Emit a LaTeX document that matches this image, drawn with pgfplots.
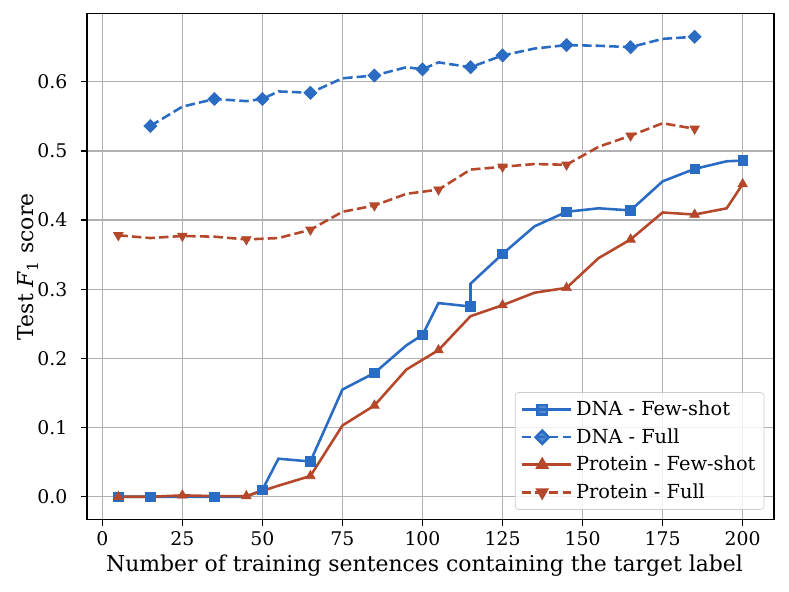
\documentclass[border=0pt]{standalone}
\usepackage{fontspec}
\setmainfont{DejaVu Serif}
\usepackage{pgfplots}
\pgfplotsset{compat=1.18}
\definecolor{cblue}{RGB}{42,108,196}
\definecolor{cred}{RGB}{181,72,42}
\begin{document}
\begin{tikzpicture}
\useasboundingbox (0,0) rectangle (460.8pt,345.6pt);
\begin{axis}[
  at={(50.87pt,42.05pt)}, anchor=south west,
  scale only axis, width=401.1pt, height=295.5pt,
  xmin=-4.75, xmax=209.75, ymin=-0.03325, ymax=0.69825,
  xtick={0,25,50,75,100,125,150,175,200},
  ytick={0,0.1,0.2,0.3,0.4,0.5,0.6},
  yticklabel style={xshift=-4.5pt, /pgf/number format/fixed, /pgf/number format/fixed zerofill, /pgf/number format/precision=1},
  /pgf/number format/assume math mode=true,
  tick label style={font=\fontsize{11}{13}\selectfont},
  tick align=outside, tick pos=left,
  major tick length=3.5pt,
  tick style={black, line width=0.8pt},
  axis line style={line width=0.8pt},
  grid=major, grid style={color=black!31, line width=0.8pt},
  xlabel={Number of training sentences containing the target label},
  ylabel={Test \textit{F}\textsubscript{1} score},
  label style={font=\fontsize{12.8}{15}\selectfont},
  xlabel style={at={(axis description cs:0.5,0)}, anchor=base, yshift=-30.2pt, xshift=-3.5pt},
  ylabel style={at={(axis description cs:0,0.5)}, anchor=center, yshift=34.5pt},
  legend style={at={(1,0)}, anchor=south east, xshift=-5.6pt, yshift=5.8pt,
    draw=black!20, fill=white, fill opacity=0.8, text opacity=1,
    rounded corners=2pt, font=\fontsize{11.3}{13.5}\selectfont,
    row sep=2pt, inner sep=3pt},
  legend cell align=left,
  legend image code/.code={\draw[mark repeat=2,mark phase=2,#1] plot coordinates {(0pt,0pt) (12pt,0pt) (24pt,0pt)}; \path (24pt,0pt) -- (29pt,0pt);},
]
% DNA - Few-shot
\addplot[cblue, line width=1.5pt, no marks, forget plot] coordinates {
(5,0)(15,0)(25,0)(35,0)(45,0)(50,0.010)(55,0.055)(65,0.051)(75,0.155)(85,0.179)(95,0.219)(100,0.234)(105,0.280)(115,0.275)(115,0.308)(125,0.351)(135,0.391)(145,0.412)(155,0.417)(165,0.414)(175,0.456)(185,0.474)(195,0.485)(200,0.486)};
\addplot[cblue, only marks, mark=square*, mark size=2.8pt, forget plot] coordinates {
(5,0)(15,0)(35,0)(50,0.010)(65,0.051)(85,0.179)(100,0.234)(115,0.275)(125,0.351)(145,0.412)(165,0.414)(185,0.474)(200,0.486)};
% DNA - Full
\addplot[cblue, line width=1.5pt, dash pattern=on 5.55pt off 2.4pt, no marks, forget plot] coordinates {
(15,0.536)(25,0.564)(35,0.575)(45,0.572)(50,0.575)(55,0.586)(65,0.584)(75,0.605)(85,0.609)(95,0.621)(100,0.618)(105,0.628)(115,0.621)(125,0.638)(135,0.648)(145,0.653)(155,0.652)(165,0.650)(175,0.662)(185,0.665)};
\addplot[cblue, only marks, mark=square*, mark size=2.7pt, mark options={rotate=45}, forget plot] coordinates {
(15,0.536)(35,0.575)(50,0.575)(65,0.584)(85,0.609)(100,0.618)(115,0.621)(125,0.638)(145,0.653)(165,0.650)(185,0.665)};
% Protein - Few-shot
\addplot[cred, line width=1.5pt, no marks, forget plot] coordinates {
(5,0)(15,0)(25,0.002)(35,0.001)(45,0.001)(55,0.016)(65,0.030)(75,0.103)(85,0.132)(95,0.184)(105,0.212)(115,0.261)(125,0.277)(135,0.295)(145,0.302)(155,0.345)(165,0.372)(175,0.411)(185,0.408)(195,0.417)(200,0.452)};
\addplot[cred, only marks, mark=triangle*, mark size=3.2pt, forget plot] coordinates {
(5,0)(25,0.002)(45,0.001)(65,0.030)(85,0.132)(105,0.212)(125,0.277)(145,0.302)(165,0.372)(185,0.408)(200,0.452)};
% Protein - Full
\addplot[cred, line width=1.5pt, dash pattern=on 5.55pt off 2.4pt, no marks, forget plot] coordinates {
(5,0.378)(15,0.374)(25,0.377)(35,0.376)(45,0.372)(55,0.374)(65,0.386)(75,0.412)(85,0.421)(95,0.438)(105,0.444)(115,0.473)(125,0.477)(135,0.481)(145,0.480)(155,0.506)(165,0.522)(175,0.540)(185,0.532)};
\addplot[cred, only marks, mark=triangle*, mark size=3.2pt, mark options={rotate=180}, forget plot] coordinates {
(5,0.378)(25,0.377)(45,0.372)(65,0.386)(85,0.421)(105,0.444)(125,0.477)(145,0.480)(165,0.522)(185,0.532)};
\addlegendimage{cblue, line width=1.5pt, mark=square*, mark size=2.8pt}
\addlegendentry{DNA - Few-shot}
\addlegendimage{cblue, line width=1.5pt, dash pattern=on 5.55pt off 2.4pt, mark=square*, mark size=2.7pt, mark options={rotate=45, solid}}
\addlegendentry{DNA - Full}
\addlegendimage{cred, line width=1.5pt, mark=triangle*, mark size=3.2pt}
\addlegendentry{Protein - Few-shot}
\addlegendimage{cred, line width=1.5pt, dash pattern=on 5.55pt off 2.4pt, mark=triangle*, mark size=3.2pt, mark options={rotate=180, solid}}
\addlegendentry{Protein - Full}
\end{axis}
\end{tikzpicture}
\end{document}
